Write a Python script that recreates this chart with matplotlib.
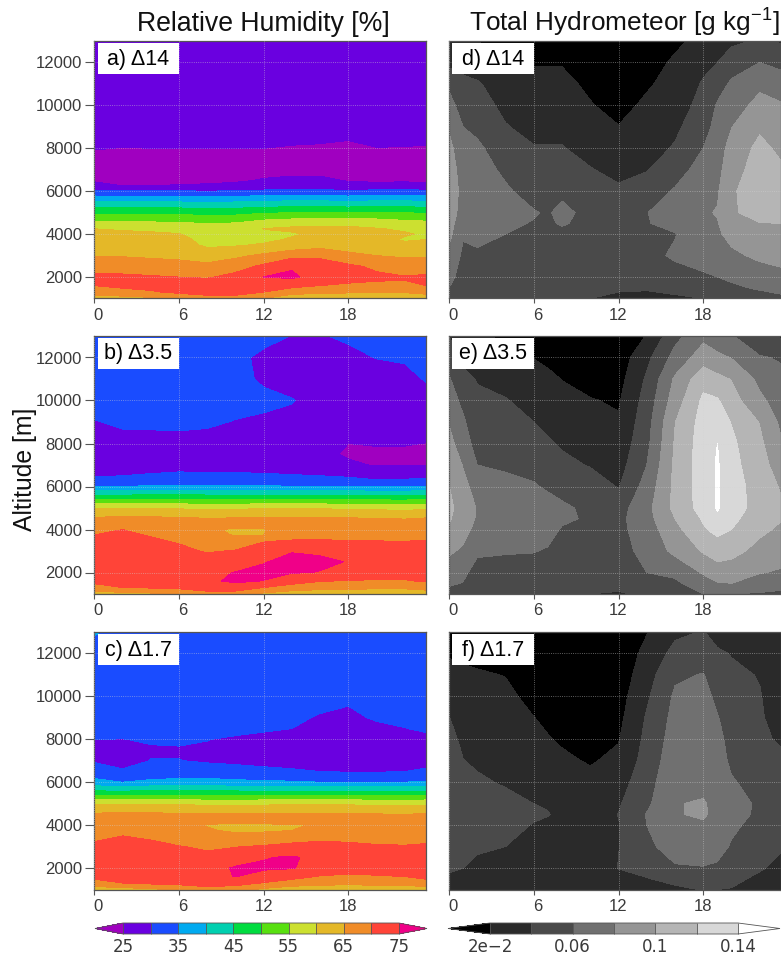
import numpy as np
import matplotlib
matplotlib.use('Agg')
from matplotlib import pyplot as plt
from matplotlib.patches import Rectangle
from matplotlib.transforms import ScaledTranslation

plt.rcParams['font.family'] = ['Liberation Sans', 'DejaVu Sans']
plt.rcParams['mathtext.default'] = 'regular'

W, H = 781, 955

# Relative humidity, one row per hour, one value per altitude
RH_HOURS = [0, 2, 4, 6, 8, 10, 12, 14, 16, 18, 20, 22, 23.5]
RH_ALT = [1000, 1300, 1600, 2000, 2500, 3000, 3500, 3750, 4000, 4250, 4500, 5000, 5500,
          6000, 6250, 6500, 7000, 7500, 8000, 8500, 9000, 10000, 11000, 12000, 13000]

rh_a = [
    [62, 67.5, 70, 71, 67.5, 64.7, 62.9, 62, 61, 60, 56.5, 49, 40, 31, 26.5, 24.5, 23.5, 24, 25.2, 26, 27, 27.5, 28, 28, 28],
    [63, 68.5, 71, 71, 67.5, 64.7, 62.7, 61.5, 60.6, 59.7, 56, 49, 40, 30.5, 25, 23.8, 23.5, 24, 24.9, 26, 27, 27.5, 28, 28, 28],
    [64, 69.5, 71.5, 70.5, 67, 64.3, 62.5, 61.3, 60.4, 59.5, 56, 49, 40, 30.5, 25, 23.8, 23.5, 24, 25, 26, 27, 27.5, 28, 28, 28],
    [66, 71, 72, 70, 66.5, 64, 62.3, 61.3, 60.2, 58.5, 55.5, 49, 40, 30.5, 25.3, 24, 23.5, 24, 25, 26, 27, 27.5, 28, 28, 28],
    [68, 72, 73, 69.5, 66, 63, 59, 58.5, 58, 57, 55, 48, 39.5, 30, 25.5, 24.2, 23.5, 24, 25, 26, 27, 27.5, 28, 28, 28],
    [68, 72, 73.5, 71.5, 68, 64, 59.5, 59, 58.5, 57.5, 55.3, 48.5, 40, 30.5, 26, 24.5, 23.5, 24, 25, 26, 27, 27.5, 28, 28, 28],
    [65, 70, 72.5, 75.05, 71, 66, 60.5, 59, 59.2, 60.1, 57.5, 49.5, 40.5, 31, 26.5, 25.3, 23.8, 24, 25, 26, 27, 27.5, 28, 28, 28],
    [60, 68, 71, 75.8, 74.5, 68.5, 61.5, 60.5, 59.5, 60.8, 58.5, 50, 41, 31.5, 27, 25.7, 24, 24, 24.6, 26, 27, 27.5, 28, 28, 28],
    [59, 66.5, 70, 73, 72.5, 69, 63, 62, 61, 60.8, 59, 50, 41, 31.5, 27, 25.7, 24, 24, 24.4, 25.8, 27, 27.5, 28, 28, 28],
    [59, 66, 69, 72.5, 71, 66, 63, 62, 61, 60.8, 59, 50, 40.5, 30.5, 26, 24.8, 23.8, 24, 24.2, 25.3, 27, 27.5, 28, 28, 28],
    [59, 65.5, 69, 71, 69, 65, 62.5, 61.5, 61, 60.2, 58.5, 50, 41, 31.5, 26, 24.5, 23.5, 24, 24.9, 26, 27, 27.5, 28, 28, 28],
    [60, 65.5, 69.5, 70.3, 67, 64.5, 61, 59.5, 60.4, 59.5, 57, 50, 41, 31.5, 26.2, 24.6, 23.5, 24, 24.8, 26, 27, 27.5, 28, 28, 28],
    [61, 67, 70, 71, 67, 64.5, 61, 60, 59.5, 58, 56.5, 49.5, 40.5, 31, 26, 24.3, 23.5, 24, 24.6, 26, 27, 27.5, 28, 28, 28],
]
rh_b = [
    [63, 68.5, 71, 73, 72, 71.5, 70.7, 70, 68.5, 67.5, 66, 59.5, 47.5, 35, 31.8, 29.5, 28, 28.5, 29, 29.2, 29.8, 31.5, 32, 32, 32],
    [63, 70, 72, 73.5, 73, 72, 71, 70.5, 70, 68, 66.2, 59.5, 47.5, 35, 32, 30, 28, 28.5, 29, 29.7, 30.6, 32, 32, 32, 32],
    [64, 70.5, 72.5, 73.5, 72, 71.5, 70.4, 69.8, 68.5, 67.5, 66.2, 59.8, 47.8, 35.5, 32.5, 30.5, 28, 28.5, 29, 29.7, 30.8, 32, 32, 32, 32],
    [66, 71, 73, 73, 71.5, 70.8, 69.6, 68.5, 67.5, 67, 65.8, 59.5, 47.8, 35.5, 32.5, 31, 28.2, 28.5, 29, 29.8, 30.9, 32, 32, 32, 32],
    [68, 72.5, 74.5, 74.3, 71.5, 69.7, 67.5, 65.7, 65.4, 66, 65.3, 59, 47.5, 35.5, 32.5, 30.8, 28.2, 28.5, 29, 29.6, 30.6, 32, 32, 32, 31.5],
    [67, 73.5, 75.5, 75.1, 73.5, 70.2, 68, 64.8, 64.7, 66, 65.5, 59.3, 47.5, 35.5, 32.5, 30.8, 28, 28.5, 29, 29, 29.8, 31.5, 31, 30.8, 30.8],
    [64, 70, 74.9, 75.8, 74.8, 71.5, 69.7, 64.9, 64.9, 65.8, 65.6, 59.6, 47.5, 35.3, 32.2, 30.6, 28, 28, 28.5, 28.5, 29.4, 30.8, 29.5, 29.3, 31],
    [62, 68, 72, 75.3, 76, 74.8, 70.1, 68, 66.5, 66.5, 65.6, 59.6, 47.5, 35.3, 32, 30.3, 27.5, 27.5, 27.5, 28, 29, 30.2, 28.5, 28.5, 29.9],
    [61, 67, 70.2, 74.9, 75.5, 74.6, 70.2, 68.5, 67.5, 66.8, 65.8, 59.5, 47.5, 35, 31.8, 30, 26.5, 25.8, 26.3, 27, 28, 28.5, 28, 28.5, 29.8],
    [61, 66.5, 69.7, 73.5, 74.9, 72, 69.9, 68.5, 67.5, 66.5, 65.5, 59.3, 47.5, 35, 31.3, 29.5, 25.5, 24.6, 25, 26.5, 27.5, 28, 28, 29.2, 30.5],
    [61, 66, 69.5, 72.5, 73, 71.5, 69.9, 68.5, 67.5, 66.5, 65.3, 59, 47, 34.7, 30.5, 28.5, 24.8, 24.2, 25.3, 27, 27.5, 28, 28.5, 30.1, 31],
    [61, 66, 69.5, 72.5, 72.5, 71, 69.9, 68, 67, 66, 64.9, 58.5, 47, 34.8, 30.8, 28.5, 24.7, 24.1, 25.3, 27, 27.5, 28, 28.8, 30.5, 31],
    [62, 67, 70.5, 73, 72.5, 71.5, 70, 68.5, 67.5, 66.5, 65.5, 59.3, 47.5, 35, 31.3, 29, 24.8, 24.3, 24.9, 26.5, 27.5, 28.5, 30.3, 31, 31.5],
]
rh_c = [
    [62, 68.5, 71, 73, 72, 70.7, 69.2, 68, 67, 66.5, 65.8, 59.3, 47, 36.5, 34.3, 32.5, 29.5, 28.5, 30.1, 32, 33, 33, 33, 33, 35.5],
    [63, 70, 72, 73.5, 73, 71.5, 70, 68.5, 67.5, 66.5, 66, 59.3, 47, 35, 33, 30.5, 28.5, 29, 29.9, 32, 33, 33, 33, 33, 33],
    [64, 71, 72.5, 73.5, 72, 70.8, 69.5, 68, 67, 66.5, 66, 59.5, 47.5, 36, 34, 31.5, 30.1, 29.5, 30.5, 32, 33, 33, 33, 33, 33],
    [66, 71.5, 73, 73, 71.5, 70.2, 67.5, 66.5, 66, 66, 65.6, 59.5, 47.5, 36.5, 34.3, 32, 30.1, 29.6, 30.7, 32, 33, 33, 33, 33, 33],
    [68, 72.5, 74, 73.5, 71, 69.3, 66.3, 65.2, 64.9, 65.8, 65.3, 59, 47, 36.5, 34.3, 32, 29.5, 29.5, 30.1, 31.5, 32.5, 33, 33, 33, 33],
    [67, 72, 75.1, 75.4, 73, 69.8, 65.5, 64.7, 64.6, 65.7, 65.3, 59, 47, 36, 34, 31.8, 29, 28.8, 29.5, 31, 32, 33, 33, 33, 33],
    [64, 69.7, 73.5, 75.5, 74.8, 70.5, 66, 64.6, 64.8, 65.6, 65.5, 59.2, 47, 35.5, 33.5, 31.2, 28.5, 28, 29, 30.5, 31.5, 33, 33, 33, 33],
    [62, 68, 71.5, 75.3, 75.4, 71.5, 67, 65, 64.9, 65.8, 65.6, 59.3, 47, 35.5, 33.2, 30.7, 28, 27.5, 28.5, 30, 31, 33, 33, 33, 33],
    [61, 67, 69.7, 73, 74, 71.5, 68.5, 66, 65.1, 65.9, 65.7, 59.3, 47, 35, 33, 30, 27.5, 27, 27.5, 28.5, 29.5, 32, 33, 33, 33],
    [61, 66.5, 69, 72.5, 73.5, 71, 68.5, 67, 66.3, 66, 65.5, 59.3, 47, 34.8, 32.5, 29.6, 27.3, 26.5, 27, 28, 28.8, 31, 33, 33, 33],
    [61, 67, 69.5, 72.5, 72.5, 70.5, 68, 67, 66, 65.8, 65.3, 59, 47, 34.7, 32.3, 29.6, 27.5, 27, 27.5, 28.8, 30.6, 32.5, 33, 33, 33],
    [61, 67.5, 70, 72.5, 72, 70.3, 68, 67, 66, 65.5, 65, 58.8, 47, 35, 32.7, 30, 28, 27.5, 27.8, 29.9, 31, 33, 33, 33, 33],
    [62, 68.5, 71, 73, 72.5, 70.6, 68.5, 67.5, 66.5, 66, 65.6, 59.2, 47, 35.5, 33.3, 30.7, 28.5, 28, 28.8, 30.7, 31.5, 33, 33, 33, 33],
]

# Total hydrometeor, one row per hour, one value per altitude
Q_HOURS = [0, 1, 2, 4, 6, 7, 8, 10, 12, 14, 16, 18, 19, 20, 22, 23.5]
Q_ALT = [1000, 1500, 2000, 3000, 4000, 4500, 5000, 6000, 7000, 8000, 9000, 10000, 11000, 12000, 13000]

q_d = [
    [.045, .06, .066, .076, .085, .088, .09, .09, .088, .085, .078, .068, .056, .035, .025],
    [.042, .048, .052, .056, .062, .067, .072, .075, .073, .068, .06, .05, .045, .033, .022],
    [.042, .046, .05, .057, .065, .068, .071, .072, .069, .064, .055, .047, .042, .03, .02],
    [.042, .046, .05, .056, .06, .063, .067, .063, .056, .048, .041, .036, .03, .021, .012],
    [.042, .046, .048, .05, .055, .059, .0615, .052, .047, .041, .035, .03, .025, .019, .01],
    [.042, .046, .049, .051, .054, .057, .058, .053, .046, .041, .035, .03, .024, .019, .011],
    [.042, .046, .05, .052, .055, .062, .066, .055, .046, .041, .035, .03, .024, .019, .012],
    [.04, .045, .05, .052, .053, .054, .053, .047, .041, .034, .027, .021, .017, .012, .008],
    [.034, .044, .05, .053, .054, .054, .052, .043, .035, .028, .0205, .015, .012, .009, .006],
    [.032, .043, .05, .054, .057, .059, .0595, .05, .039, .032, .027, .023, .018, .012, .007],
    [.036, .047, .052, .063, .059, .066, .07, .062, .052, .042, .036, .03, .026, .023, .016],
    [.04, .05, .058, .066, .074, .077, .078, .074, .068, .06, .053, .047, .042, .035, .026],
    [.042, .052, .06, .07, .077, .079, .081, .078, .074, .07, .066, .062, .052, .04, .03],
    [.045, .056, .064, .076, .086, .09, .096, .097, .092, .088, .0795, .071, .063, .051, .036],
    [.05, .063, .07, .084, .094, .099, .112, .113, .109, .105, .097, .086, .076, .06, .042],
    [.056, .066, .074, .087, .096, .1, .11, .11, .103, .096, .09, .082, .069, .055, .038],
]
q_e = [
    [.05, .064, .07, .083, .097, .102, .105, .1005, .093, .086, .079, .07, .062, .05, .04],
    [.045, .059, .065, .077, .087, .09, .09, .085, .079, .07, .063, .055, .045, .036, .03],
    [.042, .047, .051, .064, .074, .078, .079, .073, .06, .052, .047, .043, .039, .033, .025],
    [.042, .046, .05, .062, .069, .073, .075, .066, .057, .05, .046, .041, .034, .026, .015],
    [.042, .046, .05, .061, .072, .074, .073, .062, .053, .047, .04, .034, .028, .0195, .01],
    [.0415, .0455, .049, .058, .068, .072, .069, .057, .048, .042, .036, .03, .024, .016, .008],
    [.041, .045, .048, .054, .058, .064, .064, .052, .044, .038, .031, .026, .0195, .012, .006],
    [.04, .045, .049, .053, .056, .057, .055, .048, .039, .032, .026, .021, .014, .009, .005],
    [.038, .046, .05, .053, .055, .055, .052, .039, .032, .027, .022, .018, .013, .009, .005],
    [.043, .053, .06, .066, .07, .073, .074, .068, .06, .055, .052, .048, .043, .035, .021],
    [.048, .056, .065, .085, .094, .1, .105, .105, .104, .102, .0995, .09, .083, .067, .054],
    [.06, .072, .082, .102, .118, .122, .128, .13, .13, .13, .128, .124, .113, .09, .075],
    [.06, .079, .09, .11, .125, .136, .142, .142, .142, .14, .131, .122, .105, .085, .066],
    [.06, .08, .09, .106, .12, .125, .128, .128, .126, .124, .119, .108, .099, .079, .062],
    [.058, .072, .081, .094, .104, .108, .113, .112, .108, .104, .099, .084, .075, .062, .04],
    [.056, .068, .078, .088, .097, .101, .103, .098, .09, .082, .076, .071, .065, .058, .038],
]
q_f = [
    [.025, .035, .044, .05, .054, .057, .058, .056, .052, .046, .0405, .035, .027, .018, .01],
    [.025, .033, .04, .046, .052, .055, .055, .048, .0405, .036, .032, .028, .023, .017, .01],
    [.024, .03, .035, .043, .05, .052, .05, .043, .037, .033, .03, .027, .022, .015, .008],
    [.024, .028, .032, .04, .046, .049, .046, .038, .033, .03, .027, .024, .0195, .012, .006],
    [.024, .027, .029, .034, .039, .043, .04, .034, .03, .025, .0203, .015, .011, .007, .004],
    [.024, .0265, .0285, .032, .0355, .041, .038, .031, .026, .021, .017, .012, .009, .006, .0035],
    [.024, .026, .028, .03, .032, .035, .035, .028, .023, .018, .014, .01, .007, .005, .003],
    [.024, .026, .028, .03, .03, .031, .03, .025, .0185, .013, .01, .008, .006, .004, .003],
    [.028, .035, .0405, .0395, .039, .0405, .038, .032, .024, .019, .015, .012, .008, .006, .004],
    [.03, .039, .047, .056, .06, .061, .056, .052, .048, .045, .042, .037, .032, .026, .019],
    [.036, .046, .058, .068, .073, .079, .0795, .076, .072, .069, .066, .063, .057, .046, .036],
    [.041, .05, .059, .071, .078, .082, .081, .077, .074, .071, .069, .066, .061, .05, .041],
    [.04, .05, .057, .067, .072, .075, .077, .074, .069, .065, .061, .056, .05, .043, .032],
    [.039, .045, .05, .058, .064, .068, .07, .062, .056, .054, .052, .048, .044, .039, .03],
    [.03, .036, .042, .048, .053, .056, .056, .052, .046, .043, .042, .041, .039, .033, .027],
    [.025, .03, .035, .042, .048, .05, .05, .047, .043, .038, .033, .03, .028, .026, .023],
]

RH_LEVELS = [25, 30, 35, 40, 45, 50, 55, 60, 65, 70, 75]
RH_COLORS = ['#a000c0', '#6a00e0', '#1a4cff', '#00aaf0', '#00d0b0', '#00dc40', '#58e010',
             '#cce030', '#e4b828', '#f08c28', '#ff4438', '#f00088']
Q_LEVELS = [.02, .04, .06, .08, .1, .12, .14]
Q_COLORS = ['#000000', '#2a2a2a', '#4a4a4a', '#707070', '#959595', '#b5b5b5', '#d8d8d8', '#ffffff']

RH_TICKS = [25, 35, 45, 55, 65, 75]
Q_TICKS = [.02, .06, .1, .14]
Q_TICK_LABELS = ['2e\u22122', '0.06', '0.1', '0.14']
HOUR_TICKS = [0, 6, 12, 18]
ALT_TICKS = [2000, 4000, 6000, 8000, 10000, 12000]
INK = '#3a3a3a'


def px_axes(left, top, right, bottom):
    return fig.add_axes([left / W, 1 - bottom / H, (right - left) / W, (bottom - top) / H])


def panel(pos, hours, alts, field, levels, colors, label, show_y):
    ax = px_axes(*pos)
    cf = ax.contourf(hours, alts, np.array(field).T, levels=levels, colors=colors, extend='both')
    ax.set_xlim(0, 23.5)
    ax.set_ylim(1000, 13000)
    ax.set_xticks(HOUR_TICKS)
    ax.set_yticks(ALT_TICKS)
    ax.set_axisbelow(False)
    ax.grid(color='#d4d4d4', linestyle=':', linewidth=0.6, alpha=0.6)
    ax.tick_params(axis='x', length=3.5, width=0.8, color='#555555', labelcolor=INK, labelsize=12, pad=3)
    ax.tick_params(axis='y', length=6.5, width=0.8, color='#555555', labelcolor=INK, labelsize=12, pad=2,
                   left=show_y, labelleft=show_y)
    # single digit hour labels sit a little right of their tick
    for t, lab in zip(HOUR_TICKS, ax.get_xticklabels()):
        if t < 10:
            lab.set_transform(lab.get_transform() + ScaledTranslation(4 / 100, 0, fig.dpi_scale_trans))
    for s in ax.spines.values():
        s.set_color('#555555')
        s.set_linewidth(0.9)
    w = pos[2] - pos[0]
    h = pos[3] - pos[1]
    ax.add_patch(Rectangle((3.5 / w, 1 - 33 / h), 81.5 / w, 31 / h, transform=ax.transAxes,
                           facecolor='white', edgecolor='none', zorder=5))
    ax.text(44 / w, 1 - 18 / h, label, transform=ax.transAxes, ha='center', va='center',
            fontsize=15.5, color='black', zorder=6)
    return cf


fig = plt.figure(figsize=(W / 100, H / 100), dpi=100)

left_x = (94.3, 426)
right_x = (449, 781)
rows_y = [(41, 298.5), (336, 594), (632, 889.5)]

cf_rh = None
for (top, bottom), field, label in zip(rows_y, [rh_a, rh_b, rh_c], ['a) \u039414', 'b) \u03943.5', 'c) \u03941.7']):
    cf_rh = panel((left_x[0], top, left_x[1], bottom), RH_HOURS, RH_ALT, field, RH_LEVELS, RH_COLORS, label, True)

cf_q = None
for (top, bottom), field, label in zip(rows_y, [q_d, q_e, q_f], ['d) \u039414', 'e) \u03943.5', 'f) \u03941.7']):
    cf_q = panel((right_x[0], top, right_x[1], bottom), Q_HOURS, Q_ALT, field, Q_LEVELS, Q_COLORS, label, False)

fig.text(263 / W, 1 - 24 / H, 'Relative Humidity [%]', ha='center', va='center', fontsize=19.2, color='#111111')
fig.text(624 / W, 1 - 23 / H, 'Total Hydrometeor [g kg$^{-1}$]', ha='center', va='center', fontsize=18.9, color='#111111')
fig.text(25 / W, 1 - 469 / H, 'Altitude [m]', rotation=90, ha='center', va='center', fontsize=17.8, color='#111111')

cax1 = px_axes(95, 923, 427, 934)
cb1 = fig.colorbar(cf_rh, cax=cax1, orientation='horizontal', extendfrac=28 / 276, drawedges=True, ticks=RH_TICKS)
cb1.ax.set_xticklabels([str(t) for t in RH_TICKS], family='DejaVu Sans')

cax2 = px_axes(448, 923, 780, 934)
cb2 = fig.colorbar(cf_q, cax=cax2, orientation='horizontal', extendfrac=42 / 248, drawedges=True, ticks=Q_TICKS)
cb2.ax.set_xticklabels(Q_TICK_LABELS, family='DejaVu Sans')

for cb in (cb1, cb2):
    cb.ax.tick_params(length=0, labelsize=12, labelcolor=INK, pad=3)
    cb.outline.set_edgecolor('#555555')
    cb.outline.set_linewidth(0.6)
    cb.dividers.set_color('#555555')
    cb.dividers.set_linewidth(0.6)

plt.savefig('out.png', dpi=100)
